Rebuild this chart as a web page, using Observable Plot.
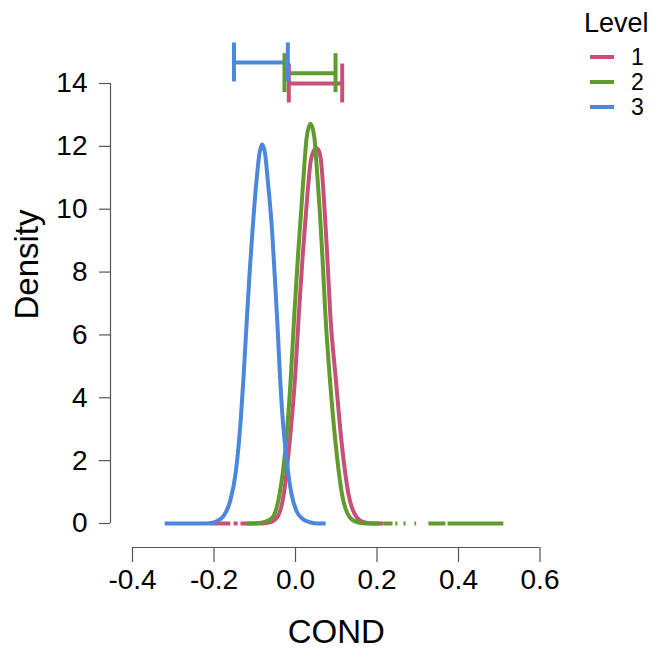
<!DOCTYPE html>
<html>
<head>
<meta charset="utf-8">
<script src="https://cdn.jsdelivr.net/npm/d3@7"></script>
<script src="https://cdn.jsdelivr.net/npm/@observablehq/plot@0.6"></script>
<style>
  html, body { margin: 0; padding: 0; background: #fff; }
  #chart { position: relative; width: 655px; height: 648px; }
</style>
</head>
<body>
<div id="chart"></div>
<script>
// ---- Data ----
const levels = ["1", "2", "3"];
const levelColors = ["#C85078", "#5F9B2D", "#4B87DC"];
const legendTitle = "Level";
const xLabel = "COND";
const yLabel = "Density";
const xTicks = [-0.4, -0.2, 0.0, 0.2, 0.4, 0.6];
const yTicks = [0, 2, 4, 6, 8, 10, 12, 14];

// Level 1 density curve (NaN = gap in the drawn line)
const level1X = [-0.211, -0.16, NaN, -0.152, -0.142, NaN, -0.135, -0.11, -0.085, -0.065, -0.0449, -0.0287, -0.0147, -0.001, 0.008, 0.0175, 0.0262, 0.0375, 0.0445, 0.0515, 0.0575, 0.0625, 0.0715, 0.078, 0.0855, 0.0985, 0.1135, 0.13, 0.15, 0.168, 0.19, 0.216];
const level1Y = [0, 0, NaN, 0, 0, NaN, 0, 0, 0, 0.03, 0.2, 0.94, 2.54, 4.66, 6.62, 8.5, 9.96, 11.55, 11.85, 11.94, 11.85, 11.55, 9.96, 8.5, 6.62, 4.66, 2.54, 0.94, 0.2, 0.04, 0, 0];

// Level 2 density curve
const level2X = [-0.12, -0.095, -0.075, -0.056, -0.039, -0.0235, -0.0115, -0.003, 0.006, 0.014, 0.0225, 0.0275, 0.0368, 0.0462, 0.051, 0.0595, 0.066, 0.0735, 0.084, 0.0985, 0.114, 0.133, 0.152, 0.176, 0.208, NaN, 0.216, 0.238, NaN, 0.245, 0.25, NaN, 0.265, 0.27, NaN, 0.292, 0.296, NaN, 0.326, 0.368, NaN, 0.373, 0.51];
const level2Y = [0, 0.01, 0.05, 0.2, 0.94, 2.54, 4.66, 6.62, 8.5, 9.96, 11.55, 12.29, 12.72, 12.29, 11.55, 9.96, 8.5, 6.62, 4.66, 2.54, 0.94, 0.2, 0.04, 0, 0, NaN, 0, 0, NaN, 0, 0, NaN, 0, 0, NaN, 0, 0, NaN, 0, 0, NaN, 0, 0];

// Level 3 density curve
const level3X = [-0.321, -0.25, -0.23, -0.21, -0.192, -0.176, -0.16, -0.146, -0.1345, -0.1275, -0.121, -0.1125, -0.1055, -0.0957, -0.088, -0.082, -0.075, -0.068, -0.0575, -0.0515, -0.0435, -0.038, -0.033, -0.0215, -0.01, 0.002, 0.017, 0.035, 0.055, 0.074];
const level3Y = [0, 0, 0, 0.01, 0.08, 0.25, 0.73, 1.69, 3.28, 4.66, 6.14, 8.0, 9.32, 10.91, 11.8, 12.06, 11.8, 10.91, 9.32, 8.0, 6.14, 4.66, 3.6, 2.0, 0.95, 0.41, 0.15, 0.04, 0, 0];

// Interval bars drawn above the curves
const intervalLower = [-0.0164, -0.027, -0.151];
const intervalUpper = [0.1146, 0.0982, -0.0188];
const intervalY = [14.0, 14.33, 14.67];

// ---- Build tables ----
const curveXs = [level1X, level2X, level3X];
const curveYs = [level1Y, level2Y, level3Y];
const curveRows = [];
levels.forEach((lv, i) => {
  curveXs[i].forEach((x, j) => curveRows.push({level: lv, x, y: curveYs[i][j]}));
});
const intervals = levels.map((lv, i) => ({level: lv, lower: intervalLower[i], upper: intervalUpper[i], pos: intervalY[i]}));
const capHalf = 0.62;
const fmt = d => d.toFixed(1);
const axisColor = "#555";
const font = "'Liberation Sans', Arial, Helvetica, sans-serif";

const plot = Plot.plot({
  width: 655,
  height: 648,
  marginLeft: 132,
  marginRight: 115.5,
  marginTop: 83,
  marginBottom: 125,
  x: {domain: [xTicks[0], xTicks[xTicks.length - 1]]},
  y: {domain: [yTicks[0], yTicks[yTicks.length - 1]]},
  color: {domain: levels, range: levelColors},
  style: {fontFamily: font, background: "#fff", color: "#000"},
  marks: [
    // axes lines
    Plot.ruleY([yTicks[0]], {x1: xTicks[0], x2: xTicks[xTicks.length - 1], dy: 24, stroke: axisColor, strokeWidth: 1.2}),
    Plot.ruleX([xTicks[0]], {y1: yTicks[0], y2: yTicks[yTicks.length - 1], dx: -22, stroke: axisColor, strokeWidth: 1.2}),
    Plot.axisX(xTicks, {anchor: "bottom", tickSize: 15, tickPadding: 7, dy: 24, fontSize: 28, tickFormat: fmt, stroke: axisColor, strokeWidth: 1.2, fill: "#000", label: null}),
    Plot.axisY(yTicks, {anchor: "left", tickSize: 11, tickPadding: 12, dx: -22, fontSize: 28, tickFormat: d => String(d), stroke: axisColor, strokeWidth: 1.2, fill: "#000", label: null}),
    Plot.text([xLabel], {frameAnchor: "bottom", text: d => d, dy: 119, fontSize: 33, fill: "#000"}),
    Plot.text([yLabel], {frameAnchor: "left", text: d => d, rotate: -90, dx: -105, dy: 16, fontSize: 33, fill: "#000"}),
    // density curves
    Plot.line(curveRows, {x: "x", y: "y", z: "level", stroke: "level", strokeWidth: 4, curve: "monotone-x", strokeLinecap: "butt"}),
    // interval bars
    Plot.ruleY(intervals, {x1: "lower", x2: "upper", y: "pos", stroke: "level", strokeWidth: 4}),
    Plot.ruleX(intervals, {x: "lower", y1: d => d.pos - capHalf, y2: d => d.pos + capHalf, stroke: "level", strokeWidth: 4}),
    Plot.ruleX(intervals, {x: "upper", y1: d => d.pos - capHalf, y2: d => d.pos + capHalf, stroke: "level", strokeWidth: 4})
  ]
});

// ---- Legend (top right) ----
const svg = d3.select(plot);
const lg = svg.append("g").attr("font-family", font).attr("text-anchor", "start");
lg.append("text").attr("x", 584).attr("y", 32).attr("font-size", 27).attr("fill", "#000").text(legendTitle);
levels.forEach((lv, i) => {
  const cy = 57 + 25 * i;
  lg.append("line").attr("x1", 590).attr("x2", 614).attr("y1", cy).attr("y2", cy)
    .attr("stroke", levelColors[i]).attr("stroke-width", 4);
  lg.append("text").attr("x", 631).attr("y", cy).attr("dy", "0.36em").attr("font-size", 23).attr("fill", "#000").text(lv);
});

document.getElementById("chart").appendChild(plot);
</script>
</body>
</html>
